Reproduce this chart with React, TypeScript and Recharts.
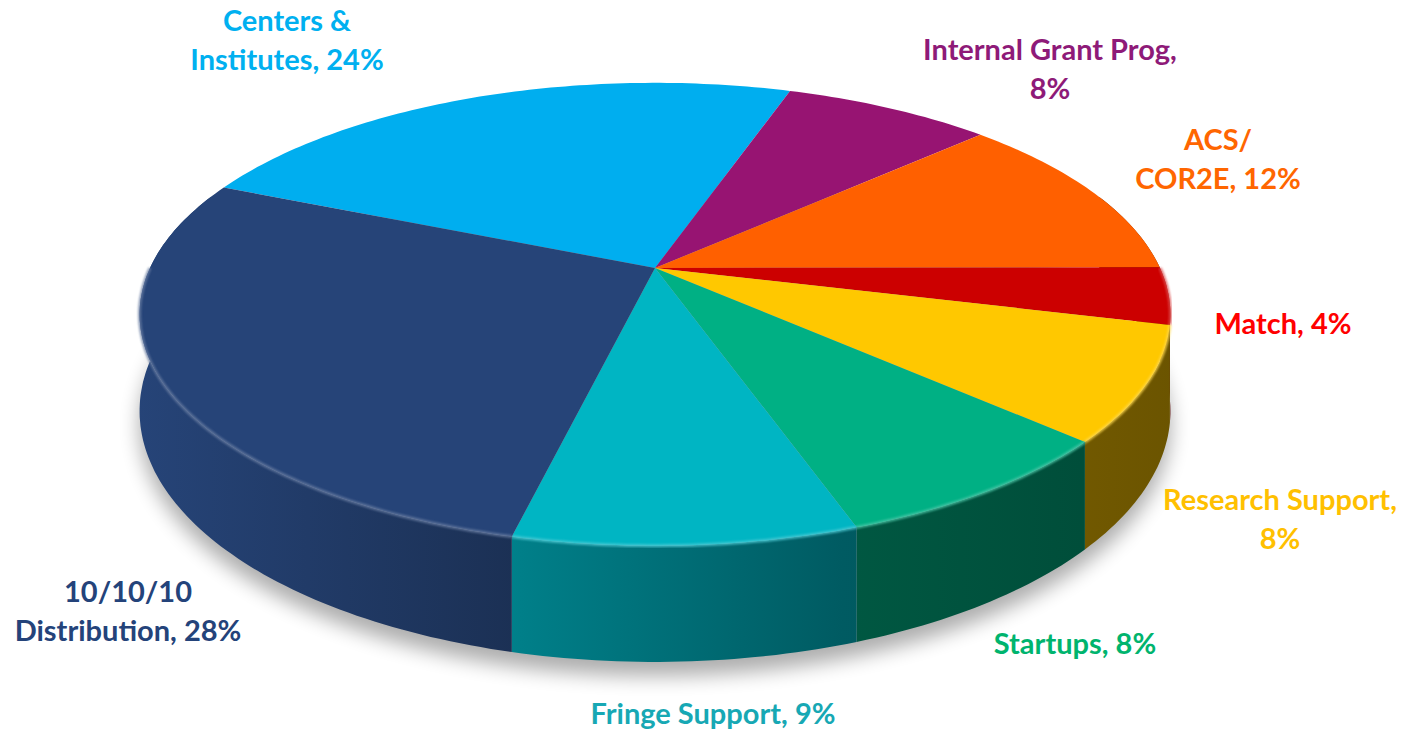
import React from 'react';
import { PieChart, Pie } from 'recharts';

// slices go clockwise from the top-left boundary
const names = [
  'Centers & Institutes',
  'Internal Grant Prog',
  'ACS/COR2E',
  'Match',
  'Research Support',
  'Startups',
  'Fringe Support',
  '10/10/10 Distribution',
];
const shares = [24, 8, 12, 4, 8, 8, 9, 28];
const labelTexts = [
  'Centers &\nInstitutes, 24%',
  'Internal Grant Prog,\n8%',
  'ACS/\nCOR2E, 12%',
  'Match, 4%',
  'Research Support,\n8%',
  'Startups, 8%',
  'Fringe Support, 9%',
  '10/10/10\nDistribution, 28%',
];
const sliceColors = ['#00AEEF', '#971472', '#FF6000', '#CC0000', '#FFC800', '#00B084', '#00B5C3', '#264478'];
const textColors = ['#00B0F0', '#8E1A78', '#FF6600', '#FF0000', '#FFC000', '#00B46E', '#17A8B4', '#24437A'];

// hand-placed label blocks (centre of each text block)
const labelSpots: [number, number][] = [
  [287, 39], [1050, 68], [1218, 158], [1283, 322],
  [1280, 518], [1075, 642], [713, 712], [128, 610],
];

const W = 1404;
const H = 731;
const SQUASH = 0.44;   // vertical/horizontal radius ratio of the top face
const TILT = 0.2;      // perspective: far side smaller than near side
const THICK = 0.184;   // side height relative to radius
const LINE_H = 39;

const data = names.map((name, i) => ({ name, value: shares[i] }));

const rad = Math.PI / 180;

const shade = (hex: string, f: number) => {
  const n = parseInt(hex.slice(1), 16);
  const c = [(n >> 16) & 255, (n >> 8) & 255, n & 255].map(v => Math.min(255, Math.round(v * f)));
  return `rgb(${c.join(',')})`;
};
const tint = (hex: string, t: number) => {
  const n = parseInt(hex.slice(1), 16);
  const c = [(n >> 16) & 255, (n >> 8) & 255, n & 255].map(v => Math.round(v + (255 - v) * t));
  return `rgb(${c.join(',')})`;
};

type P = [number, number];

function pt(cx: number, cy: number, r: number, deg: number, down = 0): P {
  const u = Math.cos(deg * rad);
  const v = Math.sin(deg * rad);
  const w = 1 + TILT * v;
  return [cx + (r * u) / w, cy - (r * SQUASH * v) / w + (down * r * THICK) / w];
}

function arc(cx: number, cy: number, r: number, from: number, to: number, down = 0): P[] {
  const n = Math.max(2, Math.ceil(Math.abs(to - from)) + 1);
  const out: P[] = [];
  for (let k = 0; k < n; k++) out.push(pt(cx, cy, r, from + ((to - from) * k) / (n - 1), down));
  return out;
}

const poly = (pts: P[]) => pts.map((p, i) => `${i ? 'L' : 'M'}${p[0].toFixed(1)},${p[1].toFixed(1)}`).join('');

// parts of [lo, hi] that face the viewer (lower half), widened by eps
function frontSpans(lo: number, hi: number, eps: number): P[] {
  const spans: P[] = [];
  for (let k = -2; k <= 1; k++) {
    const a = Math.max(lo, -180 - eps + 360 * k);
    const b = Math.min(hi, eps + 360 * k);
    if (b > a) spans.push([a, b]);
  }
  return spans;
}

function Defs({ cx, r }: { cx: number; r: number }) {
  return (
    <defs>
      <filter id="pieShadow" x="-20%" y="-20%" width="140%" height="160%">
        <feGaussianBlur stdDeviation="10" />
      </filter>
      <filter id="rimGlow">
        <feGaussianBlur stdDeviation="1.2" />
      </filter>
      {sliceColors.map((c, i) => (
        <linearGradient key={i} id={`side${i}`} gradientUnits="userSpaceOnUse"
          x1={cx - r * 1.03} y1={0} x2={cx + r * 1.03} y2={0}>
          <stop offset="0" stopColor={shade(c, 1.0)} />
          <stop offset="0.37" stopColor={shade(c, 0.7)} />
          <stop offset="0.68" stopColor={shade(c, 0.5)} />
          <stop offset="1" stopColor={shade(c, 0.42)} />
        </linearGradient>
      ))}
    </defs>
  );
}

const renderSlice = (props: any) => {
  const { cx, cy, outerRadius: r, startAngle, endAngle, index } = props;
  const i = index as number;
  const lo = Math.min(startAngle, endAngle);
  const hi = Math.max(startAngle, endAngle);
  const color = sliceColors[i];

  const top = `M${cx},${cy}` + poly(arc(cx, cy, r, hi, lo)).replace('M', 'L') + 'Z';
  const sides = frontSpans(lo, hi, 20).map(([a, b]) =>
    poly([...arc(cx, cy, r, a, b), ...arc(cx, cy, r, b, a, 1)]) + 'Z');
  const rims = frontSpans(lo, hi, 0).map(([a, b]) => poly(arc(cx, cy, r, a, b)));

  const lines = labelTexts[i].split('\n');
  const [lx, ly] = labelSpots[i];

  return (
    <g key={`slice-${i}`}>
      {i === 0 && <Defs cx={cx} r={r} />}
      {i === 0 && (
        <path d={poly(arc(cx, cy + 14, r * 1.0, 0, 359, 1)) + 'Z'} fill="#000" opacity={0.32}
          filter="url(#pieShadow)" />
      )}
      {sides.map((d, k) => <path key={`s${k}`} d={d} fill={`url(#side${i})`} />)}
      <path d={top} fill={color} />
      {rims.map((d, k) => (
        <path key={`r${k}`} d={d} fill="none" stroke={tint(color, 0.3)} strokeWidth={3}
          opacity={0.8} filter="url(#rimGlow)" />
      ))}
      <text x={lx} textAnchor="middle" fill={textColors[i]}
        style={{ fontFamily: 'Lato, "Open Sans", sans-serif', fontWeight: 700, fontSize: 29 }}>
        {lines.map((t, j) => (
          <tspan key={j} x={lx} y={ly + (j - (lines.length - 1) / 2) * LINE_H} dominantBaseline="central">
            {t}
          </tspan>
        ))}
      </text>
    </g>
  );
};

export default function App() {
  return (
    <div style={{ position: 'absolute', left: 0, top: 0, width: W, height: H, background: '#fff' }}>
      <PieChart width={W} height={H} margin={{ top: 0, right: 0, bottom: 0, left: 0 }}>
        <Pie
          data={data}
          dataKey="value"
          nameKey="name"
          cx={655}
          cy={268}
          outerRadius={505}
          startAngle={157}
          endAngle={-203}
          fill="none"
          stroke="none"
          label={renderSlice}
          labelLine={false}
          isAnimationActive={false}
        />
      </PieChart>
    </div>
  );
}
